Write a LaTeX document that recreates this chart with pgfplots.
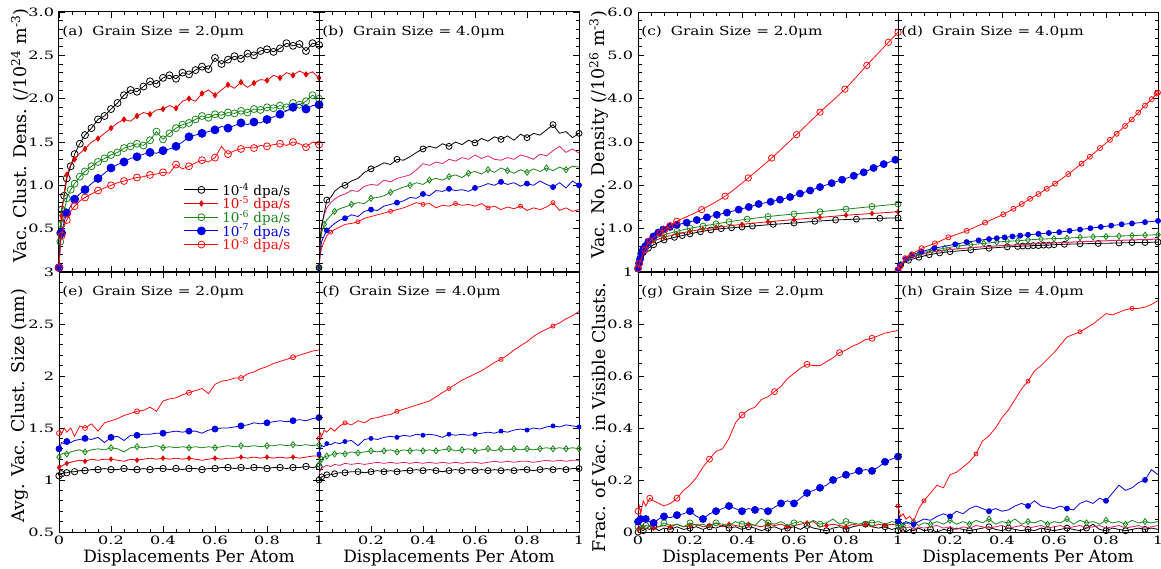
\documentclass[border=0pt]{standalone}
\usepackage{fontspec}
\setmainfont{DejaVu Serif}
\usepackage{pgfplots}
\usepackage{pgfplotstable}
\pgfplotsset{compat=1.18}

\definecolor{cR5}{rgb}{0.90,0,0}
\definecolor{cPk}{rgb}{0.88,0.13,0.40}
\definecolor{cG}{rgb}{0.10,0.53,0.10}
\definecolor{cB}{rgb}{0,0,0.90}
\definecolor{cR8}{rgb}{1,0.05,0.05}

\pgfplotstableread{
x s4 s5 s6 s7 s8
0     0.05 0.05 0.05 0.05 0.05
0.005 0.45 0.40 0.35 0.35 0.30
0.01  0.72 0.65 0.55 0.45 0.42
0.02  0.88 0.92 0.70 0.58 0.54
0.03  1.08 1.12 0.85 0.68 0.60
0.045 1.22 1.24 0.95 0.76 0.70
0.06  1.36 1.30 1.02 0.84 0.76
0.08  1.48 1.37 1.10 0.90 0.82
0.10  1.58 1.42 1.16 0.95 0.86
0.125 1.66 1.50 1.22 1.02 0.90
0.15  1.76 1.54 1.27 1.08 0.94
0.175 1.80 1.60 1.31 1.14 0.97
0.20  1.88 1.66 1.35 1.20 1.00
0.225 1.95 1.72 1.38 1.24 1.03
0.25  2.04 1.76 1.43 1.27 1.05
0.275 2.10 1.74 1.45 1.31 1.07
0.30  2.08 1.80 1.48 1.33 1.09
0.325 2.14 1.84 1.46 1.36 1.10
0.35  2.20 1.82 1.52 1.38 1.12
0.375 2.17 1.87 1.62 1.37 1.13
0.40  2.24 1.88 1.53 1.40 1.15
0.425 2.27 1.92 1.60 1.42 1.14
0.45  2.23 1.89 1.66 1.45 1.24
0.475 2.30 1.97 1.70 1.50 1.19
0.50  2.28 2.00 1.72 1.56 1.22
0.525 2.33 1.97 1.76 1.58 1.26
0.55  2.37 2.06 1.80 1.60 1.29
0.575 2.34 2.10 1.78 1.62 1.27
0.60  2.47 2.04 1.82 1.64 1.32
0.625 2.40 2.10 1.81 1.68 1.45
0.65  2.45 2.16 1.84 1.66 1.36
0.675 2.49 2.12 1.83 1.69 1.40
0.70  2.46 2.19 1.86 1.72 1.42
0.725 2.52 2.13 1.84 1.70 1.44
0.75  2.50 2.18 1.88 1.73 1.43
0.775 2.55 2.22 1.87 1.72 1.46
0.80  2.57 2.21 1.90 1.76 1.45
0.825 2.54 2.27 1.89 1.79 1.47
0.85  2.58 2.24 1.92 1.82 1.48
0.875 2.64 2.30 1.90 1.86 1.46
0.90  2.61 2.27 1.95 1.90 1.50
0.925 2.63 2.32 1.93 1.94 1.48
0.95  2.55 2.28 1.97 1.88 1.44
0.975 2.64 2.31 2.04 1.92 1.50
1.0   2.62 2.24 2.00 1.93 1.47
}\tA

\pgfplotstableread{
x s4 s5 s6 s7 s8
0     0.05 0.05 0.05 0.05 0.05
0.005 0.40 0.38 0.32 0.25 0.20
0.01  0.52 0.55 0.45 0.35 0.28
0.02  0.68 0.66 0.55 0.42 0.35
0.03  0.83 0.74 0.60 0.48 0.42
0.045 0.86 0.80 0.65 0.52 0.46
0.06  0.93 0.84 0.70 0.56 0.49
0.08  0.98 0.88 0.73 0.60 0.52
0.10  1.00 0.90 0.75 0.62 0.55
0.125 1.05 0.94 0.78 0.66 0.56
0.15  1.08 0.93 0.80 0.64 0.58
0.175 1.15 0.99 0.79 0.70 0.62
0.20  1.19 1.01 0.85 0.72 0.64
0.225 1.22 1.00 0.86 0.71 0.66
0.25  1.26 1.06 0.88 0.76 0.68
0.275 1.24 1.04 0.92 0.78 0.70
0.30  1.30 1.08 0.95 0.80 0.72
0.325 1.29 1.10 0.98 0.82 0.74
0.35  1.33 1.12 1.00 0.86 0.77
0.375 1.38 1.18 1.03 0.85 0.80
0.40  1.42 1.25 1.01 0.90 0.78
0.425 1.45 1.23 1.06 0.88 0.79
0.45  1.43 1.27 1.08 0.94 0.74
0.475 1.48 1.25 1.06 0.93 0.77
0.50  1.45 1.30 1.10 0.96 0.76
0.525 1.50 1.28 1.12 0.94 0.79
0.55  1.47 1.32 1.09 0.95 0.77
0.575 1.52 1.30 1.14 0.93 0.78
0.60  1.49 1.35 1.16 0.97 0.76
0.625 1.54 1.31 1.13 0.99 0.79
0.65  1.51 1.34 1.18 1.02 0.74
0.675 1.56 1.30 1.15 1.00 0.76
0.70  1.53 1.29 1.20 1.04 0.72
0.725 1.57 1.32 1.17 1.01 0.75
0.75  1.52 1.30 1.14 1.03 0.73
0.775 1.59 1.35 1.18 0.99 0.76
0.80  1.55 1.33 1.15 1.02 0.71
0.825 1.60 1.30 1.19 1.00 0.74
0.85  1.58 1.36 1.16 1.05 0.72
0.875 1.64 1.34 1.20 1.01 0.75
0.90  1.70 1.40 1.17 0.98 0.80
0.925 1.60 1.45 1.21 1.03 0.71
0.95  1.62 1.38 1.18 0.97 0.74
0.975 1.55 1.42 1.22 1.05 0.70
1.0   1.60 1.37 1.21 1.00 0.72
}\tB

\pgfplotstableread{
x s4 s5 s6 s7 s8
0     1.04 1.12 1.22 1.30 1.45
0.005 1.05 1.14 1.24 1.33 1.47
0.01  1.06 1.13 1.25 1.36 1.44
0.02  1.07 1.15 1.26 1.35 1.50
0.03  1.07 1.16 1.25 1.37 1.46
0.045 1.08 1.17 1.27 1.36 1.50
0.06  1.08 1.18 1.28 1.38 1.42
0.08  1.09 1.19 1.29 1.39 1.52
0.10  1.09 1.18 1.27 1.40 1.50
0.125 1.10 1.20 1.29 1.39 1.54
0.15  1.10 1.19 1.30 1.41 1.47
0.175 1.11 1.20 1.29 1.36 1.55
0.20  1.10 1.20 1.31 1.41 1.57
0.225 1.10 1.19 1.30 1.42 1.59
0.25  1.11 1.18 1.27 1.38 1.62
0.275 1.10 1.20 1.31 1.43 1.64
0.30  1.10 1.19 1.32 1.43 1.66
0.325 1.11 1.20 1.31 1.44 1.67
0.35  1.10 1.21 1.32 1.44 1.70
0.375 1.11 1.20 1.33 1.45 1.66
0.40  1.11 1.21 1.31 1.45 1.76
0.425 1.10 1.20 1.32 1.46 1.78
0.45  1.11 1.21 1.31 1.47 1.79
0.475 1.10 1.20 1.32 1.46 1.82
0.50  1.11 1.21 1.31 1.47 1.84
0.525 1.11 1.20 1.32 1.47 1.86
0.55  1.10 1.19 1.31 1.45 1.88
0.575 1.11 1.20 1.32 1.48 1.83
0.60  1.11 1.21 1.31 1.49 1.92
0.625 1.12 1.20 1.32 1.50 1.95
0.65  1.12 1.21 1.33 1.50 1.96
0.675 1.11 1.21 1.32 1.51 1.98
0.70  1.12 1.22 1.33 1.52 1.98
0.725 1.11 1.21 1.32 1.53 2.02
0.75  1.12 1.22 1.33 1.55 2.04
0.775 1.12 1.21 1.32 1.54 2.07
0.80  1.11 1.22 1.33 1.55 2.09
0.825 1.12 1.21 1.33 1.56 2.12
0.85  1.12 1.22 1.34 1.57 2.14
0.875 1.11 1.21 1.33 1.56 2.16
0.90  1.12 1.22 1.34 1.57 2.18
0.925 1.12 1.21 1.33 1.58 2.20
0.95  1.13 1.22 1.34 1.57 2.22
0.975 1.12 1.23 1.33 1.59 2.24
1.0   1.13 1.23 1.34 1.60 2.25
}\tE

\pgfplotstableread{
x s4 s5 s6 s7 s8
0     1.00 1.06 1.15 1.25 1.40
0.005 1.02 1.09 1.18 1.30 1.45
0.01  1.03 1.11 1.20 1.33 1.42
0.02  1.04 1.13 1.22 1.32 1.48
0.03  1.05 1.14 1.23 1.35 1.46
0.045 1.05 1.13 1.24 1.34 1.50
0.06  1.06 1.15 1.25 1.36 1.47
0.08  1.07 1.14 1.26 1.35 1.52
0.10  1.07 1.16 1.25 1.37 1.55
0.125 1.08 1.15 1.27 1.38 1.53
0.15  1.08 1.16 1.26 1.33 1.57
0.175 1.07 1.15 1.27 1.39 1.55
0.20  1.08 1.16 1.28 1.40 1.59
0.225 1.09 1.17 1.27 1.39 1.60
0.25  1.08 1.16 1.28 1.41 1.62
0.275 1.09 1.17 1.29 1.42 1.63
0.30  1.08 1.16 1.27 1.41 1.66
0.325 1.09 1.17 1.29 1.43 1.68
0.35  1.09 1.16 1.28 1.42 1.70
0.375 1.10 1.17 1.29 1.44 1.72
0.40  1.09 1.16 1.28 1.43 1.74
0.425 1.10 1.17 1.29 1.44 1.76
0.45  1.09 1.16 1.28 1.43 1.80
0.475 1.08 1.17 1.29 1.41 1.84
0.50  1.09 1.16 1.30 1.44 1.88
0.525 1.10 1.17 1.28 1.43 1.92
0.55  1.09 1.16 1.29 1.44 1.96
0.575 1.10 1.17 1.30 1.43 1.99
0.60  1.09 1.17 1.28 1.44 2.02
0.625 1.10 1.16 1.29 1.45 2.05
0.65  1.09 1.17 1.30 1.46 2.09
0.675 1.10 1.18 1.28 1.45 2.13
0.70  1.09 1.17 1.30 1.47 2.16
0.725 1.10 1.18 1.29 1.46 2.20
0.75  1.09 1.17 1.30 1.48 2.25
0.775 1.10 1.18 1.29 1.49 2.29
0.80  1.10 1.18 1.30 1.48 2.33
0.825 1.09 1.17 1.29 1.50 2.38
0.85  1.10 1.18 1.30 1.49 2.42
0.875 1.11 1.19 1.31 1.51 2.45
0.90  1.10 1.18 1.30 1.52 2.48
0.925 1.11 1.19 1.31 1.51 2.51
0.95  1.10 1.18 1.30 1.53 2.55
0.975 1.11 1.19 1.31 1.52 2.58
1.0   1.11 1.19 1.30 1.51 2.62
}\tF

\pgfplotstableread{
x s4 s5 s6 s7 s8
0     0.000 0.010 0.020 0.040 0.080
0.005 0.020 0.020 0.050 0.060 0.100
0.01  0.010 0.015 0.030 0.050 0.070
0.02  0.005 0.020 0.015 0.040 0.120
0.03  0.015 0.010 0.025 0.050 0.100
0.045 0.010 0.025 0.020 0.040 0.130
0.06  0.020 0.015 0.030 0.035 0.120
0.08  0.005 0.020 0.020 0.050 0.110
0.10  0.015 0.025 0.035 0.060 0.100
0.125 0.010 0.020 0.025 0.055 0.110
0.15  0.020 0.030 0.030 0.065 0.130
0.175 0.010 0.020 0.020 0.070 0.160
0.20  0.015 0.025 0.035 0.080 0.180
0.225 0.020 0.030 0.025 0.060 0.210
0.25  0.010 0.020 0.030 0.050 0.250
0.275 0.020 0.025 0.020 0.070 0.280
0.30  0.015 0.035 0.035 0.080 0.310
0.325 0.025 0.020 0.030 0.090 0.320
0.35  0.015 0.030 0.025 0.100 0.360
0.375 0.020 0.025 0.040 0.090 0.420
0.40  0.010 0.020 0.030 0.080 0.450
0.425 0.020 0.030 0.035 0.090 0.470
0.45  0.015 0.025 0.025 0.085 0.480
0.475 0.005 0.020 0.050 0.090 0.510
0.50  0.015 0.030 0.035 0.080 0.520
0.525 0.020 0.025 0.030 0.095 0.540
0.55  0.010 0.030 0.040 0.110 0.560
0.575 0.015 0.020 0.025 0.120 0.590
0.60  0.020 0.025 0.035 0.110 0.610
0.625 0.010 0.030 0.040 0.130 0.630
0.65  0.025 0.035 0.030 0.150 0.645
0.675 0.015 0.040 0.045 0.160 0.640
0.70  0.010 0.020 0.030 0.170 0.640
0.725 0.005 0.025 0.035 0.180 0.655
0.75  0.015 0.030 0.050 0.200 0.670
0.775 0.020 0.025 0.030 0.210 0.690
0.80  0.010 0.020 0.040 0.220 0.700
0.825 0.020 0.030 0.035 0.225 0.715
0.85  0.025 0.025 0.030 0.235 0.725
0.875 0.030 0.030 0.040 0.240 0.740
0.90  0.020 0.020 0.035 0.235 0.745
0.925 0.015 0.030 0.040 0.250 0.755
0.95  0.020 0.025 0.030 0.270 0.765
0.975 0.010 0.030 0.040 0.280 0.770
1.0   0.015 0.025 0.035 0.290 0.775
}\tG

\pgfplotstableread{
x s4 s5 s6 s7 s8
0     0.005 0.010 0.020 0.040 0.100
0.005 0.015 0.020 0.040 0.060 0.080
0.01  0.005 0.010 0.030 0.040 0.060
0.02  0.010 0.020 0.025 0.030 0.070
0.03  0.000 0.015 0.035 0.040 0.050
0.045 0.010 0.020 0.030 0.035 0.060
0.06  0.005 0.010 0.040 0.030 0.040
0.08  0.015 0.020 0.025 0.040 0.090
0.10  0.005 0.015 0.035 0.050 0.120
0.125 0.010 0.020 0.030 0.045 0.150
0.15  0.000 0.025 0.040 0.060 0.180
0.175 0.010 0.015 0.030 0.070 0.170
0.20  0.005 0.020 0.045 0.060 0.220
0.225 0.015 0.010 0.030 0.080 0.230
0.25  0.010 0.020 0.040 0.070 0.250
0.275 0.005 0.015 0.030 0.090 0.270
0.30  0.010 0.025 0.045 0.100 0.300
0.325 0.015 0.020 0.035 0.090 0.350
0.35  0.020 0.015 0.050 0.080 0.370
0.375 0.010 0.020 0.030 0.090 0.400
0.40  0.005 0.025 0.040 0.080 0.440
0.425 0.015 0.015 0.035 0.085 0.470
0.45  0.010 0.020 0.050 0.100 0.510
0.475 0.005 0.025 0.030 0.110 0.550
0.50  0.010 0.015 0.040 0.100 0.580
0.525 0.005 0.020 0.035 0.120 0.620
0.55  0.015 0.025 0.045 0.100 0.640
0.575 0.010 0.015 0.030 0.095 0.665
0.60  0.005 0.020 0.040 0.090 0.690
0.625 0.010 0.025 0.035 0.100 0.720
0.65  0.015 0.015 0.050 0.090 0.750
0.675 0.010 0.020 0.030 0.085 0.760
0.70  0.005 0.025 0.045 0.110 0.770
0.725 0.015 0.015 0.035 0.120 0.785
0.75  0.030 0.020 0.040 0.110 0.800
0.775 0.010 0.025 0.030 0.130 0.820
0.80  0.005 0.015 0.045 0.120 0.840
0.825 0.015 0.020 0.035 0.150 0.835
0.85  0.010 0.025 0.040 0.180 0.845
0.875 0.005 0.015 0.030 0.160 0.855
0.90  0.010 0.020 0.045 0.170 0.860
0.925 0.015 0.025 0.035 0.190 0.860
0.95  0.010 0.015 0.040 0.200 0.865
0.975 0.015 0.020 0.035 0.240 0.875
1.0   0.010 0.025 0.040 0.220 0.890
}\tH

\pgfplotsset{
  panel/.style={
    width=260pt, height=260pt, scale only axis,
    xmin=0, xmax=1,
    xtick={0,0.2,0.4,0.6,0.8,1},
    minor xtick={0,0.05,...,1},
    tick align=inside,
    major tick length=6pt, minor tick length=3.5pt,
    every tick/.style={black, line width=0.8pt},
    axis line style={line width=1pt},
    tick label style={font=\fontsize{11.5}{13}\selectfont, xscale=1.4},
    every axis x label/.style={at={(axis description cs:0.5,-0.098)}, anchor=center,
       font=\fontsize{17}{19}\selectfont},
    clip mode=individual,
    every axis plot/.append style={line width=0.8pt},
  },
  ylab/.style={every axis y label/.style={at={(axis description cs:-0.15,#1)}, rotate=90, anchor=center,
       font=\fontsize{17.5}{19}\selectfont}},
  nox/.style={xticklabels={}},
  noy/.style={yticklabels={}},
  rowA/.style={ymin=0, ymax=3, ytick={0,0.5,1,1.5,2,2.5,3}, minor ytick={0,0.1,...,3}},
  rowC/.style={ymin=0, ymax=6, ytick={0,1,2,3,4,5,6}, minor ytick={0,0.2,...,6}},
  rowE/.style={ymin=0.5, ymax=3, ytick={0.5,1,1.5,2,2.5,3}, minor ytick={0.5,0.6,...,3}},
  rowG/.style={ymin=0, ymax=1, ytick={0,0.2,0.4,0.6,0.8,1}, minor ytick={0,0.05,...,1}},
  s4/.style={black, mark=o, mark size=3.5pt},
  s5/.style={cR5, mark=diamond*, mark size=2.6pt},
  s6/.style={cG, mark=o, mark size=3.5pt},
  s6d/.style={cG, mark=diamond, mark size=3.5pt},
  s7/.style={cB, mark=*, mark size=4pt},
  s8/.style={cR8, mark=o, mark size=3.5pt},
}

\newcommand{\ptitle}[1]{\node[anchor=west, inner sep=0pt, xscale=1.22, font=\fontsize{12.5}{14}\selectfont] at (axis description cs:0.012,0.922) {#1};}

\begin{document}
\begin{tikzpicture}
\useasboundingbox (0,0) rectangle (1161pt,568pt);

% (a)
\begin{axis}[panel, rowA, nox, at={(59pt,296pt)}, anchor=south west,
  yticklabels={,0.5,1.0,1.5,2.0,2.5,3.0},
  ylabel={Vac. Clust. Dens. (/10\textsuperscript{24} m\textsuperscript{-3})}, ylab=0.525,
  legend style={at={(axis description cs:0.48,0.345)}, anchor=north west, draw=none, fill=none,
     font=\fontsize{13.5}{15}\selectfont, row sep=-1pt, column sep=3pt, inner sep=0pt,
     nodes={inner sep=0.5pt}},
  legend cell align=left,
  legend image code/.code={\draw[mark repeat=2,mark phase=2] plot coordinates {(0pt,0pt) (17pt,0pt) (34pt,0pt)};},
]
\addplot[s4, mark repeat=1] table[x=x,y=s4]{\tA};
\addlegendentry{\textcolor{black}{10\textsuperscript{-4} dpa/s}}
\addplot[s5, mark repeat=2] table[x=x,y=s5]{\tA};
\addlegendentry{\textcolor{cR5}{10\textsuperscript{-5} dpa/s}}
\addplot[s6, mark repeat=1] table[x=x,y=s6]{\tA};
\addlegendentry{\textcolor{cG}{10\textsuperscript{-6} dpa/s}}
\addplot[s7, mark repeat=2] table[x=x,y=s7]{\tA};
\addlegendentry{\textcolor{cB}{10\textsuperscript{-7} dpa/s}}
\addplot[s8, mark repeat=2] table[x=x,y=s8]{\tA};
\addlegendentry{\textcolor{cR8}{10\textsuperscript{-8} dpa/s}}
\ptitle{(a)\hspace{0.6em}Grain Size = 2.0μm}
\end{axis}

% (b)
\begin{axis}[panel, rowA, nox, noy, at={(319pt,296pt)}, anchor=south west]
\addplot[s8, mark size=2pt, mark repeat=5] table[x=x,y=s8]{\tB};
\addplot[s7, mark size=2.5pt, mark repeat=4] table[x=x,y=s7]{\tB};
\addplot[s6d, mark size=3pt, mark repeat=3] table[x=x,y=s6]{\tB};
\addplot[cPk, mark=none] table[x=x,y=s5]{\tB};
\addplot[s4, mark size=3pt, mark repeat=4] table[x=x,y=s4]{\tB};
\ptitle{(b)\hspace{0.6em}Grain Size = 4.0μm}
\end{axis}

% (c)
\begin{axis}[panel, rowC, nox, at={(638pt,296pt)}, anchor=south west,
  yticklabels={,1.0,2.0,3.0,4.0,5.0,6.0},
  ylabel={Vac. No. Density (/10\textsuperscript{26} m\textsuperscript{-3})}, ylab=0.527,
]
\addplot[s4, mark size=3pt] coordinates {(0,0.08)(0.01,0.35)(0.02,0.45)(0.04,0.55)(0.06,0.63)(0.1,0.74)(0.14,0.80)(0.17,0.84)(0.2,0.88)(0.24,0.93)(0.28,0.97)(0.32,1.00)(0.36,1.02)(0.4,1.04)(0.44,1.06)(0.52,1.10)(0.6,1.13)(0.68,1.17)(0.76,1.20)(0.84,1.22)(0.93,1.24)(1.0,1.25)};
\addplot[s5, mark size=2.2pt] coordinates {(0,0.08)(0.01,0.40)(0.03,0.58)(0.06,0.72)(0.1,0.80)(0.15,0.88)(0.2,0.94)(0.25,0.99)(0.3,1.03)(0.4,1.10)(0.5,1.16)(0.6,1.21)(0.7,1.26)(0.8,1.31)(0.9,1.35)(1.0,1.39)};
\addplot[s6, mark size=3pt] coordinates {(0,0.08)(0.01,0.42)(0.03,0.62)(0.06,0.76)(0.1,0.86)(0.15,0.94)(0.2,1.01)(0.25,1.06)(0.3,1.11)(0.35,1.16)(0.42,1.22)(0.5,1.28)(0.6,1.34)(0.7,1.39)(0.8,1.45)(0.9,1.51)(1.0,1.57)};
\addplot[s7, mark size=3.5pt] coordinates {(0,0.08)(0.004,0.20)(0.008,0.30)(0.014,0.45)(0.02,0.52)(0.027,0.59)(0.04,0.70)(0.059,0.82)(0.078,0.91)(0.097,0.98)(0.123,1.04)(0.149,1.09)(0.187,1.14)(0.226,1.20)(0.265,1.26)(0.303,1.32)(0.342,1.37)(0.387,1.44)(0.426,1.50)(0.464,1.57)(0.51,1.62)(0.546,1.67)(0.585,1.73)(0.623,1.81)(0.662,1.88)(0.70,1.96)(0.745,2.05)(0.785,2.13)(0.83,2.22)(0.868,2.30)(0.906,2.40)(0.945,2.49)(0.99,2.59)};
\addplot[s8, mark size=3.2pt, smooth] coordinates {(0,0.08)(0.006,0.20)(0.027,0.51)(0.046,0.72)(0.085,0.90)(0.104,0.98)(0.123,1.07)(0.149,1.17)(0.245,1.44)(0.335,1.75)(0.424,2.17)(0.514,2.63)(0.61,3.17)(0.70,3.69)(0.796,4.22)(0.88,4.77)(0.963,5.30)(1.0,5.53)};
\ptitle{(c)\hspace{0.6em}Grain Size = 2.0μm}
\end{axis}

% (d)
\begin{axis}[panel, rowC, nox, noy, at={(898pt,296pt)}, anchor=south west]
\addplot[s4, mark size=3pt] coordinates {(0,0.05)(0.01,0.16)(0.04,0.27)(0.08,0.34)(0.12,0.40)(0.16,0.44)(0.2,0.47)(0.28,0.51)(0.35,0.55)(0.42,0.58)(0.46,0.59)(0.48,0.60)(0.5,0.60)(0.52,0.61)(0.54,0.61)(0.56,0.62)(0.58,0.62)(0.6,0.63)(0.64,0.64)(0.7,0.65)(0.77,0.66)(0.85,0.67)(0.9,0.68)(0.95,0.68)(1.0,0.69)};
\addplot[cPk, line width=1pt, mark=none] coordinates {(0,0.05)(0.01,0.17)(0.04,0.30)(0.08,0.39)(0.13,0.46)(0.2,0.52)(0.3,0.57)(0.4,0.61)(0.5,0.64)(0.6,0.67)(0.7,0.70)(0.8,0.72)(0.9,0.74)(1.0,0.76)};
\addplot[s6d, mark size=3pt] coordinates {(0,0.05)(0.01,0.18)(0.04,0.32)(0.08,0.42)(0.13,0.50)(0.18,0.55)(0.23,0.60)(0.28,0.63)(0.33,0.66)(0.38,0.69)(0.42,0.71)(0.46,0.72)(0.5,0.74)(0.55,0.76)(0.6,0.77)(0.65,0.78)(0.7,0.80)(0.75,0.81)(0.8,0.82)(0.85,0.83)(0.9,0.84)(0.95,0.85)(1.0,0.86)};
\addplot[s7, mark size=2.5pt] coordinates {(0,0.05)(0.008,0.16)(0.03,0.30)(0.053,0.39)(0.09,0.47)(0.14,0.55)(0.22,0.64)(0.264,0.69)(0.31,0.73)(0.35,0.76)(0.38,0.78)(0.41,0.80)(0.44,0.82)(0.47,0.84)(0.5,0.86)(0.54,0.88)(0.58,0.90)(0.62,0.92)(0.66,0.95)(0.7,0.98)(0.74,1.01)(0.78,1.04)(0.82,1.07)(0.86,1.10)(0.9,1.12)(0.95,1.15)(1.0,1.18)};
\addplot[s8, mark size=2.5pt] coordinates {(0,0.05)(0.008,0.12)(0.027,0.32)(0.053,0.41)(0.091,0.55)(0.142,0.66)(0.194,0.80)(0.264,0.95)(0.335,1.14)(0.405,1.33)(0.444,1.46)(0.476,1.57)(0.508,1.69)(0.54,1.80)(0.572,1.92)(0.604,2.04)(0.655,2.26)(0.706,2.50)(0.738,2.66)(0.777,2.86)(0.815,3.05)(0.841,3.19)(0.873,3.37)(0.899,3.52)(0.924,3.68)(0.95,3.84)(0.976,3.99)(0.995,4.12)(1.0,4.14)};
\ptitle{(d)\hspace{0.6em}Grain Size = 4.0μm}
\end{axis}

% (e)
\begin{axis}[panel, rowE, at={(59pt,36pt)}, anchor=south west,
  yticklabels={0.5,1,1.5,2,2.5,3},
  xticklabels={0,0.2,0.4,0.6,0.8,1},
  xlabel={Displacements Per Atom},
  ylabel={Avg. Vac. Clust. Size (nm)}, ylab=0.485,
]
\addplot[s4, mark size=3.2pt, mark repeat=2] table[x=x,y=s4]{\tE};
\addplot[s5, mark size=2.2pt, mark repeat=4] table[x=x,y=s5]{\tE};
\addplot[s6d, mark size=3pt, mark repeat=4] table[x=x,y=s6]{\tE};
\addplot[s7, mark size=3pt, mark repeat=4] table[x=x,y=s7]{\tE};
\addplot[s8, mark size=2.5pt, mark repeat=8] table[x=x,y=s8]{\tE};
\ptitle{(e)\hspace{0.6em}Grain Size = 2.0μm}
\end{axis}

% (f)
\begin{axis}[panel, rowE, noy, at={(319pt,36pt)}, anchor=south west,
  xticklabels={,0.2,0.4,0.6,0.8,1},
  xlabel={Displacements Per Atom},
]
\addplot[s4, mark size=3pt, mark repeat=2] table[x=x,y=s4]{\tF};
\addplot[cPk, mark=none] table[x=x,y=s5]{\tF};
\addplot[s6d, mark size=3pt, mark repeat=2] table[x=x,y=s6]{\tF};
\addplot[s7, mark size=2pt, mark repeat=4] table[x=x,y=s7]{\tF};
\addplot[s8, mark size=2pt, mark repeat=8] table[x=x,y=s8]{\tF};
\ptitle{(f)\hspace{0.6em}Grain Size = 4.0μm}
\end{axis}

% (g)
\begin{axis}[panel, rowG, at={(638pt,36pt)}, anchor=south west,
  yticklabels={0,0.2,0.4,0.6,0.8,1},
  xticklabels={0,0.2,0.4,0.6,0.8,1},
  xlabel={Displacements Per Atom},
  ylabel={Frac. of Vac. in Visible Clusts.}, ylab=0.44,
]
\addplot[s4, mark size=3pt, mark repeat=3] table[x=x,y=s4]{\tG};
\addplot[s5, mark size=2.2pt, mark repeat=3] table[x=x,y=s5]{\tG};
\addplot[s6, mark size=3pt, mark repeat=4] table[x=x,y=s6]{\tG};
\addplot[s7, mark size=3.5pt, mark repeat=2] table[x=x,y=s7]{\tG};
\addplot[s8, mark size=3pt, mark repeat=5] table[x=x,y=s8]{\tG};
\ptitle{(g)\hspace{0.6em}Grain Size = 2.0μm}
\end{axis}

% (h)
\begin{axis}[panel, rowG, noy, at={(898pt,36pt)}, anchor=south west,
  xticklabels={,0.2,0.4,0.6,0.8,1},
  xlabel={Displacements Per Atom},
]
\addplot[s4, mark size=3pt, mark repeat=3] table[x=x,y=s4]{\tH};
\addplot[cPk, mark=none] table[x=x,y=s5]{\tH};
\addplot[s6d, mark size=3pt, mark repeat=3] table[x=x,y=s6]{\tH};
\addplot[s7, mark size=2.5pt, mark repeat=6] table[x=x,y=s7]{\tH};
\addplot[s8, mark size=2pt, mark repeat=8] table[x=x,y=s8]{\tH};
\ptitle{(h)\hspace{0.6em}Grain Size = 4.0μm}
\end{axis}
\end{tikzpicture}
\end{document}
